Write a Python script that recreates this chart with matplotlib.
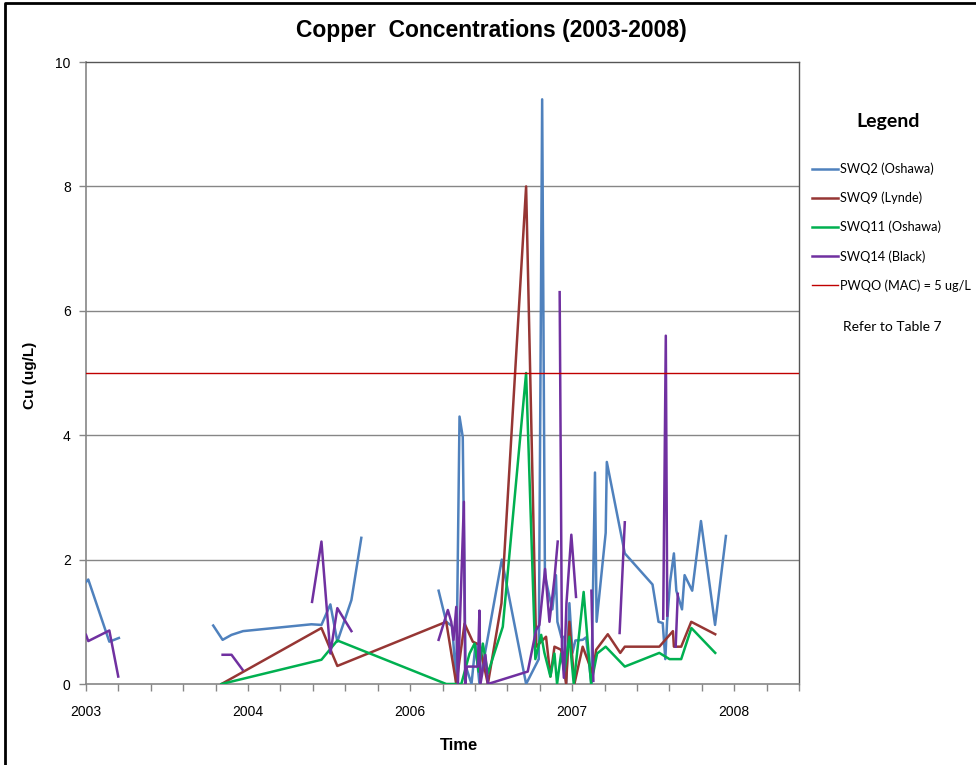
import numpy as np
import matplotlib
matplotlib.use('Agg')
import matplotlib.pyplot as plt
from matplotlib.lines import Line2D

plt.rcParams['font.family'] = ['Liberation Sans Narrow', 'Liberation Sans', 'DejaVu Sans']

# time axis in "label intervals": 0 -> 2003, 1 -> 2004, 2 -> 2006, 3 -> 2007, 4 -> 2008
nan = np.nan
swq2_x = [0.0, 0.014, 0.144, 0.203, nan,
          0.785, 0.843, 0.898, 0.969, 1.391, 1.453, 1.508, 1.551, 1.638, 1.699, nan,
          2.176, 2.223, 2.260, 2.285, 2.305, 2.325, 2.342, 2.379, 2.404, 2.428, 2.566,
          2.716, 2.794, 2.815, 2.832, 2.860, 2.878, 2.900, 2.909, 2.934, 2.952, 2.963,
          2.983, 3.002, 3.020, 3.065, 3.086, 3.119, 3.141, 3.151, 3.207, 3.214, 3.325,
          3.496, 3.533, 3.559, 3.575, 3.586, 3.604, 3.628, 3.643, 3.678, 3.694, 3.741,
          3.795, 3.882, 3.949]
swq2_y = [1.64, 1.68, 0.68, 0.74, nan,
          0.94, 0.71, 0.79, 0.85, 0.96, 0.95, 1.28, 0.68, 1.35, 2.35, nan,
          1.5, 1.0, 0.93, 0.0, 4.3, 3.97, 0.3, 0.0, 0.65, 0.0, 2.0,
          0.0, 0.4, 9.4, 1.75, 1.4, 1.2, 1.75, 1.0, 0.75, 0.76, 0.0,
          1.3, 0.5, 0.7, 0.71, 0.75, 0.0, 3.4, 1.0, 2.43, 3.57, 2.1,
          1.6, 1.0, 0.98, 0.4, 1.0, 1.63, 2.1, 1.5, 1.2, 1.75, 1.5,
          2.62, 0.95, 2.38]

swq9_x = [0.836, 1.453, 1.551, 2.223, 2.285, 2.336, 2.387, 2.428, 2.480, 2.564,
          2.716, 2.778, 2.839, 2.866, 2.891, 2.932, 2.963, 2.983, 3.014, 3.065,
          3.127, 3.148, 3.220, 3.297, 3.325, 3.538, 3.622, 3.628, 3.673, 3.735, 3.883]
swq9_y = [0.0, 0.9, 0.29, 1.0, 0.0, 0.97, 0.68, 0.63, 0.0, 1.3,
          8.0, 0.6, 0.76, 0.12, 0.6, 0.55, 0.0, 1.0, 0.0, 0.6,
          0.17, 0.55, 0.8, 0.5, 0.6, 0.6, 0.85, 0.6, 0.6, 1.0, 0.8]

swq11_x = [0.836, 1.453, 1.551, 2.223, 2.316, 2.367, 2.398, 2.423, 2.449, 2.480,
           2.572, 2.716, 2.773, 2.809, 2.829, 2.866, 2.891, 2.907, 2.932, 2.952,
           2.983, 3.010, 3.071, 3.117, 3.154, 3.207, 3.325, 3.538, 3.601, 3.625,
           3.673, 3.736, 3.883]
swq11_y = [0.0, 0.39, 0.7, 0.0, 0.0, 0.49, 0.65, 0.2, 0.65, 0.17,
           0.92, 5.0, 0.4, 0.79, 0.5, 0.12, 0.49, 0.0, 0.49, 0.2,
           0.76, 0.0, 1.48, 0.0, 0.49, 0.6, 0.28, 0.5, 0.4, 0.4,
           0.4, 0.9, 0.5]

swq14_x = [0.0, 0.014, 0.144, 0.199, nan,
           0.843, 0.898, 0.966, nan,
           1.395, 1.453, 1.508, 1.551, 1.638, nan,
           2.176, 2.233, 2.254, 2.268, 2.285, 2.295, 2.332, 2.340, 2.350, 2.418,
           2.428, 2.434, 2.465, 2.480, 2.726, 2.778, 2.798, 2.833, 2.860, 2.891, 2.911, nan,
           2.923, 2.937, 2.949, 2.965, 2.995, 3.024, nan,
           3.119, 3.131, nan,
           3.293, 3.325, nan,
           3.562, 3.578, 3.587, nan,
           3.639, 3.652]
swq14_y = [0.79, 0.69, 0.86, 0.12, nan,
           0.47, 0.47, 0.23, nan,
           1.32, 2.29, 0.49, 1.22, 0.85, nan,
           0.71, 1.19, 1.0, 0.71, 1.24, 0.0, 2.93, 0.0, 0.28, 0.28,
           1.18, 0.0, 0.47, 0.0, 0.2, 0.87, 0.95, 1.85, 1.0, 1.7, 2.29, nan,
           6.3, 0.6, 0.1, 1.3, 2.4, 1.4, nan,
           1.5, 0.05, nan,
           0.82, 2.6, nan,
           1.05, 5.6, 1.1, nan,
           0.6, 1.45]

pwqo = 5.0
tick_pos = [0, 1, 2, 3, 4]
tick_labels = ['2003', '2004', '2006', '2007', '2008']
series_names = ['SWQ2 (Oshawa)', 'SWQ9 (Lynde)', 'SWQ11 (Oshawa)', 'SWQ14 (Black)', 'PWQO (MAC) = 5 ug/L']
colors = ['#4F81BD', '#963634', '#00B050', '#7030A0', '#C0504D']

fig = plt.figure(figsize=(9.76, 7.65), dpi=100)
ax = fig.add_axes([86/976, 1 - 684/765, 713/976, 622/765])

lines = []
for xs, ys, c in zip([swq2_x, swq9_x, swq11_x, swq14_x], [swq2_y, swq9_y, swq11_y, swq14_y], colors[:4]):
    l, = ax.plot(xs, ys, color=c, lw=1.8, zorder=3)
    lines.append(l)
pl = ax.axhline(pwqo, color='#C00000', lw=1.0, zorder=4)
lines.append(pl)

minor = np.arange(0, 4.41, 0.2)
ax.set_xlim(0, 4.4)
ax.set_ylim(0, 10)
ax.set_yticks(np.arange(0, 11, 2))
ax.set_yticklabels([str(v) for v in range(0, 11, 2)], fontsize=10)
ax.set_xticks(minor)
ax.set_xticklabels([tick_labels[int(round(t))] if abs(t - round(t)) < 1e-6 and round(t) in tick_pos else ''
                    for t in minor], fontsize=10)
ax.tick_params(axis='both', direction='out', length=5, width=1, color='#868686', pad=10)
ax.tick_params(axis='y', pad=6)
for t in [2, 4, 6, 8]:
    ax.axhline(t, color='#868686', lw=1.0, zorder=1)
for s in ['left', 'bottom']:
    ax.spines[s].set_color('#868686')
    ax.spines[s].set_linewidth(1.2)
for s in ['top', 'right']:
    ax.spines[s].set_color('#555555')
    ax.spines[s].set_linewidth(1.0)

fig.text(491/976, 1 - 30/765, 'Copper  Concentrations (2003-2008)', ha='center', va='center',
         fontsize=16.5, fontweight='bold')
fig.text(30/976, 1 - 375/765, 'Cu (ug/L)', rotation=90, ha='center', va='center',
         fontsize=11, fontweight='bold')
fig.text(459/976, 1 - 746/765, 'Time', ha='center', va='center', fontsize=12, fontweight='bold')

# legend block on the right
fig.text(888/976, 1 - 121/765, 'Legend', ha='center', va='center', fontsize=14, fontweight='bold',
         family=['Lato', 'DejaVu Sans'])
leg = fig.legend(lines, series_names, loc='upper left', bbox_to_anchor=(800/976, 1 - 151/765),
                 frameon=False, handlelength=2.1, handletextpad=0.15, labelspacing=1.3,
                 prop={'family': ['Lato', 'DejaVu Sans'], 'size': 9.2})
fig.text(843/976, 1 - 327/765, 'Refer to Table 7', ha='left', va='center', fontsize=10,
         family=['Lato', 'DejaVu Sans'])

# outer frame (left and top edges)
fig.add_artist(Line2D([5/976, 5/976, 1.0], [0.0, 1 - 3/765, 1 - 3/765], transform=fig.transFigure,
                      color='black', lw=2))

fig.savefig('out.png', dpi=100, facecolor='white')
